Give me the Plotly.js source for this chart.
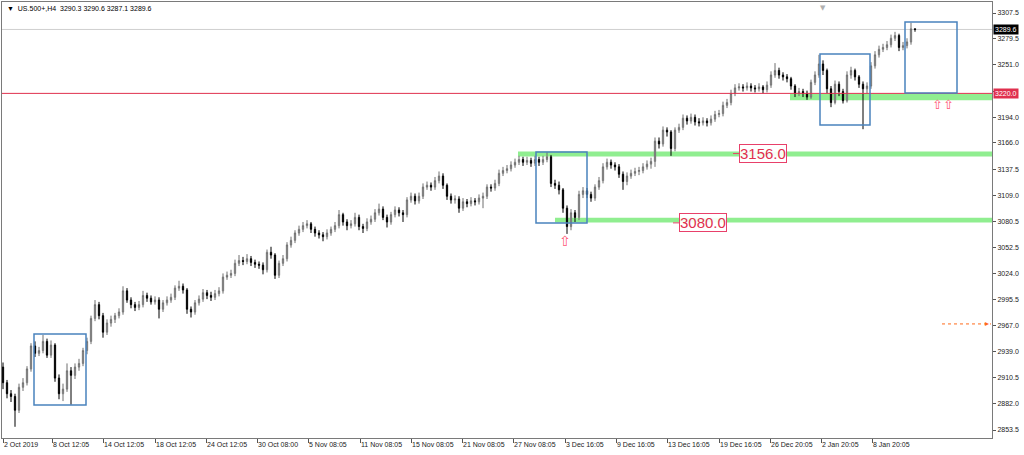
<!DOCTYPE html>
<html><head><meta charset="utf-8">
<script src="https://cdn.plot.ly/plotly-3.0.1.min.js"></script>
<style>html,body{margin:0;padding:0;background:#fff}#chart{width:1024px;height:455px}</style>
</head><body><div id="chart"></div>
<script>
const symbolLabel = 'US.500+,H4  3290.3 3290.6 3287.1 3289.6';
const open = [
2922,2905,2893,2890,2875,2900,2905,2920,2945,2937,
2940,2950,2935,2946,2910,2893,2898,2918,2913,2922,
2926,2940,2950,2975,2990,2978,2960,2970,2974,2978,
2982,3005,2995,2990,2987,2990,3000,2997,2993,2995,
2985,2992,2995,2998,3008,3010,3006,2985,2982,2992,
2996,3003,3000,2998,3002,3005,3020,3022,3024,3035,
3038,3037,3040,3036,3034,3033,3028,3047,3044,3022,
3035,3040,3055,3060,3068,3072,3076,3078,3072,3068,
3066,3064,3068,3072,3076,3088,3080,3076,3078,3085,
3075,3073,3080,3083,3090,3094,3085,3080,3088,3093,
3090,3088,3104,3108,3103,3108,3118,3120,3118,3125,
3130,3120,3108,3104,3105,3095,3102,3100,3103,3102,
3106,3108,3118,3117,3122,3133,3136,3138,3142,3145,
3148,3145,3147,3144,3148,3145,3148,3151,3122,3120,
3115,3095,3075,3090,3085,3110,3114,3110,3106,3118,
3125,3140,3145,3142,3140,3132,3124,3130,3133,3135,
3136,3140,3143,3146,3168,3165,3180,3178,3160,3180,
3183,3193,3190,3194,3189,3188,3190,3188,3192,3197,
3198,3207,3210,3220,3226,3227,3226,3228,3226,3225,
3227,3224,3229,3240,3245,3240,3238,3236,3228,3220,
3222,3220,3216,3232,3240,3252,3245,3225,3210,3230,
3222,3212,3240,3245,3238,3230,3225,3228,3250,3262,
3268,3270,3273,3280,3283,3270,3272,3276,3290.3];
const close = [
2905,2893,2890,2875,2900,2905,2920,2945,2937,2940,
2950,2935,2946,2910,2893,2898,2918,2913,2922,2926,
2940,2950,2975,2990,2978,2960,2970,2974,2978,2982,
3005,2995,2990,2987,2990,3000,2997,2993,2995,2985,
2992,2995,2998,3008,3010,3006,2985,2982,2992,2996,
3003,3000,2998,3002,3005,3020,3022,3024,3035,3038,
3037,3040,3036,3034,3033,3028,3047,3044,3022,3035,
3040,3055,3060,3068,3072,3076,3078,3072,3068,3066,
3064,3068,3072,3076,3088,3080,3076,3078,3085,3075,
3073,3080,3083,3090,3094,3085,3080,3088,3093,3090,
3088,3104,3108,3103,3108,3118,3120,3118,3125,3130,
3120,3108,3104,3105,3095,3102,3100,3103,3102,3106,
3108,3118,3117,3122,3133,3136,3138,3142,3145,3148,
3145,3147,3144,3148,3145,3148,3151,3122,3120,3115,
3095,3075,3090,3085,3110,3114,3110,3106,3118,3125,
3140,3145,3142,3140,3132,3124,3130,3133,3135,3136,
3140,3143,3146,3168,3165,3180,3178,3160,3180,3183,
3193,3190,3194,3189,3188,3190,3188,3192,3197,3198,
3207,3210,3220,3226,3227,3226,3228,3226,3225,3227,
3224,3229,3240,3245,3240,3238,3236,3228,3220,3222,
3220,3216,3232,3240,3252,3245,3225,3210,3230,3222,
3212,3240,3245,3238,3230,3225,3228,3250,3262,3268,
3270,3273,3280,3283,3270,3272,3276,3290.3,3289.6];
const high = [
2927,2908,2897,2893,2904,2910,2923,2948,2950,2944,
2957,2953,2951,2948,2914,2904,2926,2922,2926,2931,
2943,2954,2978,2995,2993,2981,2974,2978,2981,2986,
3010,3008,2998,2993,2994,3005,3003,3000,2999,2998,
2995,2999,3002,3011,3016,3013,3008,2988,2995,3000,
3007,3006,3004,3006,3009,3024,3026,3028,3039,3044,
3042,3045,3043,3039,3037,3036,3050,3053,3046,3038,
3044,3058,3064,3071,3076,3080,3082,3080,3075,3071,
3069,3072,3075,3080,3093,3090,3083,3082,3090,3088,
3078,3084,3087,3094,3100,3097,3088,3091,3097,3096,
3093,3107,3112,3111,3112,3122,3124,3123,3129,3135,
3133,3122,3111,3109,3108,3106,3105,3107,3106,3110,
3112,3121,3121,3126,3137,3140,3142,3146,3149,3152,
3151,3151,3150,3152,3151,3152,3156,3153,3126,3124,
3117,3098,3094,3093,3114,3118,3117,3113,3121,3129,
3144,3149,3148,3145,3143,3135,3134,3137,3139,3140,
3144,3147,3150,3172,3172,3184,3183,3180,3183,3187,
3197,3196,3198,3197,3193,3194,3193,3196,3201,3202,
3211,3214,3224,3230,3231,3230,3232,3231,3229,3231,
3229,3233,3244,3253,3248,3243,3241,3238,3230,3226,
3225,3223,3235,3244,3262,3256,3247,3228,3234,3233,
3225,3244,3249,3247,3240,3233,3232,3254,3266,3272,
3274,3277,3284,3287,3285,3276,3280,3297,3290.6];
const low = [
2898,2888,2884,2857,2872,2896,2902,2917,2933,2934,
2937,2932,2932,2906,2887,2885,2895,2881,2909,2918,
2923,2936,2947,2972,2974,2954,2957,2966,2970,2975,
2979,2992,2986,2983,2984,2987,2993,2990,2990,2975,
2982,2989,2992,2995,3005,3002,2980,2976,2979,2989,
2993,2996,2994,2995,2999,3002,3017,3019,3021,3032,
3033,3034,3032,3030,3029,3023,3025,3040,3018,3019,
3032,3037,3052,3057,3065,3069,3073,3068,3064,3062,
3059,3061,3065,3069,3073,3076,3071,3073,3075,3071,
3068,3070,3077,3080,3087,3082,3074,3077,3085,3086,
3080,3085,3101,3099,3100,3105,3115,3114,3115,3122,
3116,3104,3100,3100,3090,3092,3096,3097,3098,3099,
3095,3105,3113,3114,3119,3130,3133,3135,3139,3142,
3141,3142,3140,3141,3141,3142,3145,3118,3116,3110,
3090,3067,3071,3080,3082,3106,3106,3102,3103,3115,
3122,3137,3138,3136,3128,3115,3120,3127,3130,3131,
3133,3137,3138,3140,3160,3162,3173,3152,3157,3177,
3180,3186,3187,3185,3184,3185,3184,3185,3189,3194,
3195,3204,3207,3217,3223,3222,3223,3222,3221,3222,
3220,3221,3226,3237,3236,3234,3232,3224,3216,3217,
3216,3213,3214,3229,3237,3240,3220,3205,3208,3217,
3209,3210,3236,3234,3226,3181,3220,3225,3247,3259,
3265,3267,3270,3277,3266,3267,3269,3273,3287.1];
const tickPos = [0,12.25,25,38,50.75,63.5,76.25,89.25,102,114.75,127.5,140.5,153.25,166,179,191.75,204.5,217.25];
const tickLabels = ['2 Oct 2019','8 Oct 12:05','14 Oct 12:05','18 Oct 12:05','24 Oct 12:05','30 Oct 08:00','5 Nov 08:05','11 Nov 08:05','15 Nov 08:05','21 Nov 08:05','27 Nov 08:05','3 Dec 16:05','9 Dec 16:05','13 Dec 16:05','19 Dec 16:05','26 Dec 20:05','2 Jan 20:05','8 Jan 20:05'];
const priceTicks = [3307.5,3279.5,3251.0,3222.5,3194.0,3166.0,3137.5,3109.0,3080.5,3052.5,3024.0,2995.5,2967.0,2939.0,2910.5,2882.0,2853.5];
const hiddenTick = 3222.5;
const lastPrice = 3289.6;
const redLevel = 3220.0;
const level1 = 3156.0;
const level2 = 3080.0;

const xIdx = close.map((_, i) => i);
const FONT = 'Liberation Sans, Arial, sans-serif';
const BLUE = '#4a83bd';
const PINK = '#e8406a';

const trace = {
  type: 'candlestick', x: xIdx, open: open, high: high, low: low, close: close,
  increasing: {line: {color: '#6e6e6e', width: 1}, fillcolor: '#ffffff'},
  decreasing: {line: {color: '#000000', width: 1}, fillcolor: '#000000'},
  whiskerwidth: 0, hoverinfo: 'skip', showlegend: false
};

function box(x0, x1, y0, y1) {
  return {type: 'rect', xref: 'x', yref: 'y', x0, x1, y0, y1, line: {color: BLUE, width: 1.5}, fillcolor: 'rgba(0,0,0,0)', layer: 'above'};
}
function band(x0, y0, y1) {
  return {type: 'rect', xref: 'x', yref: 'y', x0, x1: 247.25, y0, y1, line: {width: 0}, fillcolor: '#90ee90', layer: 'below'};
}

const shapes = [
  {type: 'line', xref: 'paper', yref: 'y', x0: 0, x1: 1, y0: lastPrice, y1: lastPrice, line: {color: '#cfcfcf', width: 1}, layer: 'below'},
  band(128.75, level1 - 4.8, level1 + 0.8),
  band(138, level2 - 0.5, level2 + 4.5),
  band(196.75, redLevel - 7.5, redLevel - 0.3),
  {type: 'line', xref: 'paper', yref: 'y', x0: 0, x1: 1, y0: redLevel, y1: redLevel, line: {color: '#e0304e', width: 1}, layer: 'above'},
  box(7.75, 20.75, 2880.7, 2958.0),
  box(133.25, 146, 3078.9, 3156.2),
  box(204.25, 216.75, 3185.6, 3262.9),
  box(225.5, 238.5, 3220.4, 3297.7),
  {type: 'line', xref: 'x', yref: 'y', x0: 234.75, x1: 247, y0: 2969, y1: 2969, line: {color: '#ff6a1a', width: 1, dash: 'dot'}},
  {type: 'line', xref: 'x', yref: 'y', x0: 182.5, x1: 184.2, y0: level1 - 1.5, y1: level1 - 1.5, line: {color: PINK, width: 1}},
  {type: 'line', xref: 'x', yref: 'y', x0: 167.5, x1: 169.2, y0: level2 - 1, y1: level2 - 1, line: {color: PINK, width: 1}}
];

const annotations = [
  {xref: 'paper', yref: 'paper', x: 0.003, y: 0.997, xanchor: 'left', yanchor: 'top', showarrow: false,
   text: '\u25BC  ' + symbolLabel, font: {family: FONT, size: 7, color: '#000'}},
  {xref: 'x', yref: 'y', x: 190, y: level1 - 1.5, showarrow: false, text: level1.toFixed(1),
   font: {family: FONT, size: 15, color: '#e0304e'}, bgcolor: 'rgba(255,255,255,0.9)', bordercolor: PINK, borderwidth: 1, borderpad: 0},
  {xref: 'x', yref: 'y', x: 175, y: level2 - 1, showarrow: false, text: level2.toFixed(1),
   font: {family: FONT, size: 15, color: '#e0304e'}, bgcolor: 'rgba(255,255,255,0.9)', bordercolor: PINK, borderwidth: 1, borderpad: 0},
  {xref: 'x', yref: 'y', x: 140.5, y: 3059, showarrow: false, text: '\u21E7', font: {family: 'DejaVu Sans', size: 14, color: '#ff5a78'}},
  {xref: 'x', yref: 'y', x: 235, y: 3207.5, showarrow: false, text: '\u21E7\u21E7', font: {family: 'DejaVu Sans', size: 13, color: '#ff5a78'}},
  {xref: 'x', yref: 'y', x: 247, y: 2969, showarrow: false, xanchor: 'right', text: '\u25B8', font: {family: 'DejaVu Sans', size: 8, color: '#ff6a1a'}},
  {xref: 'x', yref: 'paper', x: 205, y: 1.0, yanchor: 'top', showarrow: false, text: '\u25BC', font: {family: 'DejaVu Sans', size: 7, color: '#b0b0b0'}},
  {xref: 'paper', yref: 'y', x: 1.0, y: lastPrice, xanchor: 'left', xshift: 1, showarrow: false, text: lastPrice.toFixed(1),
   font: {family: FONT, size: 7, color: '#ffffff'}, bgcolor: '#000000', borderpad: 1},
  {xref: 'paper', yref: 'y', x: 1.0, y: redLevel, xanchor: 'left', xshift: 1, showarrow: false, text: redLevel.toFixed(1),
   font: {family: FONT, size: 7, color: '#ffffff'}, bgcolor: '#e0304e', borderpad: 1}
];

const layout = {
  width: 1024, height: 455,
  margin: {l: 2, r: 32, t: 2, b: 17, pad: 0},
  paper_bgcolor: '#ffffff', plot_bgcolor: '#ffffff',
  showlegend: false,
  boxgap: 0.55,
  xaxis: {
    range: [-0.25, 247.25], rangeslider: {visible: false}, showgrid: false, zeroline: false,
    tickmode: 'array', tickvals: tickPos, ticktext: tickLabels, ticklabelposition: 'outside right',
    ticks: 'outside', ticklen: 4, tickcolor: '#555', tickfont: {family: FONT, size: 7, color: '#222'},
    showline: true, linecolor: '#7a7a7a', linewidth: 1, mirror: true, fixedrange: true
  },
  yaxis: {
    side: 'right', range: [2844.8, 3319.5], showgrid: false, zeroline: false,
    tickmode: 'array', tickvals: priceTicks, ticktext: priceTicks.map(v => v === hiddenTick ? '' : v.toFixed(1)),
    ticks: 'outside', ticklen: 3, tickcolor: '#555', tickfont: {family: FONT, size: 7, color: '#222'},
    showline: true, linecolor: '#7a7a7a', linewidth: 1, mirror: true, fixedrange: true
  },
  shapes: shapes, annotations: annotations
};

Plotly.newPlot('chart', [trace], layout, {displayModeBar: false, staticPlot: true});
</script></body></html>
